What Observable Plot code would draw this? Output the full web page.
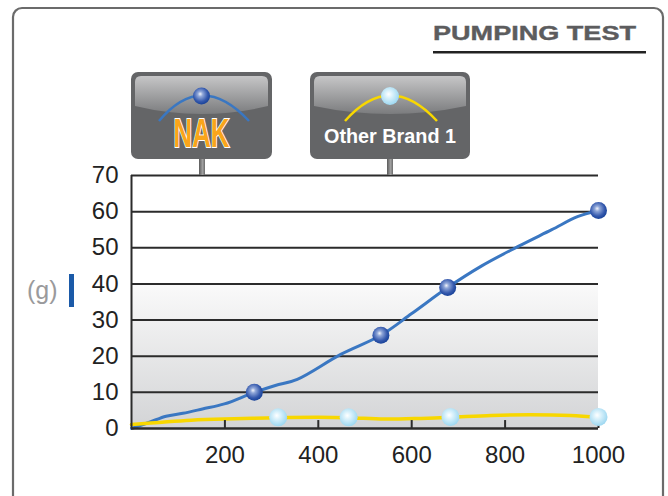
<!DOCTYPE html>
<html><head><meta charset="utf-8">
<script src="https://cdn.jsdelivr.net/npm/d3@7"></script>
<script src="https://cdn.jsdelivr.net/npm/@observablehq/plot@0.6"></script>
<style>
html,body{margin:0;padding:0;background:#fff;}
#chart{position:relative;width:668px;height:496px;overflow:hidden;}
</style></head>
<body><div id="chart"></div>
<script>
// ---- data ----
const title = "PUMPING TEST";
const unitLabel = "(g)";
const seriesNames = ["NAK", "Other Brand 1"];
const yTicks = [0, 10, 20, 30, 40, 50, 60, 70];
const xTicks = [200, 400, 600, 800, 1000];
const nakX = [0, 40, 74, 110, 152, 199, 263, 308, 355, 448, 534, 600, 677, 750, 827, 900, 955, 1000];
const nakY = [0, 1.8, 3.4, 4.2, 5.4, 6.8, 10, 11.9, 13.6, 20.5, 25.8, 31.8, 39, 45, 50.3, 55, 58.6, 60.3];
const nakMarkX = [263, 534, 677, 1000];
const nakMarkY = [10, 25.8, 39, 60.3];
const othX = [0, 128, 220, 315, 400, 463, 542, 620, 683, 770, 854, 940, 1000];
const othY = [1.1, 2.3, 2.7, 3.0, 3.1, 3.0, 2.6, 2.8, 3.1, 3.6, 3.8, 3.6, 3.1];
const othMarkX = [314, 465, 683, 1000];
const othMarkY = [3.1, 3.1, 3.2, 3.2];
const shadeBand = [{y1: 0, y2: 40}];

const nak = nakX.map((x, i) => ({x, y: nakY[i]}));
const oth = othX.map((x, i) => ({x, y: othY[i]}));
const nakM = nakMarkX.map((x, i) => ({x, y: nakMarkY[i]}));
const othM = othMarkX.map((x, i) => ({x, y: othMarkY[i]}));

const plot = Plot.plot({
  width: 668, height: 496,
  marginLeft: 131, marginRight: 70, marginTop: 175, marginBottom: 68,
  style: {fontFamily: "'Liberation Sans', Arial, sans-serif", background: "#fff", overflow: "visible", color: "#222"},
  x: {domain: [0, 1000]},
  y: {domain: [0, 70]},
  marks: [
    Plot.rect(shadeBand, {x1: 0, x2: 1000, y1: "y1", y2: "y2", fill: "url(#bgGrad)"}),
    Plot.ruleY(yTicks.filter(d => d > 0), {x1: 0, x2: 1000, stroke: "#2b2b2b", strokeWidth: 2}),
    Plot.line(nak, {x: "x", y: "y", curve: "catmull-rom", stroke: "#3a77c2", strokeWidth: 3}),
    Plot.line(oth, {x: "x", y: "y", curve: "catmull-rom", stroke: "#f8d700", strokeWidth: 3.5}),
    Plot.ruleY([0], {x1: 0, x2: 1000, stroke: "#2b2b2b", strokeWidth: 2.5}),
    Plot.ruleX([0], {y1: 0, y2: 70, stroke: "#2b2b2b", strokeWidth: 2}),
    Plot.ruleX(xTicks, {y1: 0, y2: 2.2, stroke: "#2b2b2b", strokeWidth: 2}),
    Plot.dot(nakM, {x: "x", y: "y", r: 8.5, fill: "url(#blueBall)", stroke: "none"}),
    Plot.dot(othM, {x: "x", y: "y", r: 9, fill: "url(#cyanBall)", stroke: "none"}),
    Plot.axisY(yTicks, {tickSize: 0, tickPadding: 13, fontSize: 24, fill: "#222", label: null, tickFormat: d => String(d)}),
    Plot.axisX(xTicks, {tickSize: 0, tickPadding: 17, fontSize: 24, fill: "#222", label: null, tickFormat: d => String(d)})
  ]
});
document.getElementById("chart").appendChild(plot);

// ---- decorations ----
const svg = d3.select(plot);
const defs = svg.insert("defs", ":first-child");
const bg = defs.append("linearGradient").attr("id", "bgGrad").attr("x1", 0).attr("y1", 0).attr("x2", 0).attr("y2", 1);
bg.append("stop").attr("offset", "0%").attr("stop-color", "#fafafa");
bg.append("stop").attr("offset", "100%").attr("stop-color", "#d3d4d6");
const bb = defs.append("radialGradient").attr("id", "blueBall").attr("cx", "45%").attr("cy", "42%").attr("r", "60%").attr("fx", "42%").attr("fy", "38%");
bb.append("stop").attr("offset", "0%").attr("stop-color", "#f2f4fb");
bb.append("stop").attr("offset", "25%").attr("stop-color", "#8fa6d8");
bb.append("stop").attr("offset", "70%").attr("stop-color", "#3559ad");
bb.append("stop").attr("offset", "100%").attr("stop-color", "#143f96");
const cb = defs.append("radialGradient").attr("id", "cyanBall").attr("cx", "45%").attr("cy", "42%").attr("r", "60%").attr("fx", "42%").attr("fy", "40%");
cb.append("stop").attr("offset", "0%").attr("stop-color", "#ffffff");
cb.append("stop").attr("offset", "35%").attr("stop-color", "#d9f1fb");
cb.append("stop").attr("offset", "100%").attr("stop-color", "#9ad6f0");
const boxG = defs.append("linearGradient").attr("id", "shine").attr("x1", 0).attr("y1", 0).attr("x2", 0).attr("y2", 1);
boxG.append("stop").attr("offset", "0%").attr("stop-color", "#c6c6c7");
boxG.append("stop").attr("offset", "100%").attr("stop-color", "#7b7c7e");
const stemG = defs.append("linearGradient").attr("id", "stem").attr("x1", 0).attr("y1", 0).attr("x2", 1).attr("y2", 0);
stemG.append("stop").attr("offset", "0%").attr("stop-color", "#5a5a5a");
stemG.append("stop").attr("offset", "60%").attr("stop-color", "#a0a0a0");
stemG.append("stop").attr("offset", "100%").attr("stop-color", "#6a6a6a");

const deco = svg.append("g").attr("text-anchor", "start");
// outer frame
deco.append("rect").attr("x", 13).attr("y", 8).attr("width", 650).attr("height", 520).attr("rx", 9)
  .attr("fill", "none").attr("stroke", "#6b6b6b").attr("stroke-width", 2.2);
// title
deco.append("text").attr("x", 433).attr("y", 40).attr("text-anchor", "start").text(title)
  .attr("font-size", 21).attr("font-weight", "bold").attr("fill", "#5c5c5e")
  .attr("stroke", "#5c5c5e").attr("stroke-width", 0.4)
  .attr("textLength", 203).attr("lengthAdjust", "spacingAndGlyphs");
deco.append("rect").attr("x", 433).attr("y", 51).attr("width", 213).attr("height", 2.5).attr("fill", "#222");
// unit label
deco.append("text").attr("x", 27).attr("y", 299).attr("text-anchor", "start").text(unitLabel).attr("font-size", 25).attr("fill", "#9a9a9c");
deco.append("rect").attr("x", 69).attr("y", 274).attr("width", 5).attr("height", 33).attr("fill", "#1b5aa8");

// legend boxes
const boxes = [
  {x: 131, w: 141, stem: 202, arcL: 159, arcR: 249, color: "#3a77c2", ball: "url(#blueBall)", br: 8.5, name: seriesNames[0]},
  {x: 310, w: 160, stem: 390, arcL: 345, arcR: 437, color: "#f8d700", ball: "url(#cyanBall)", br: 9, name: seriesNames[1]}
];
boxes.forEach((b, i) => {
  const g = deco.append("g");
  g.append("rect").attr("x", b.stem - 3).attr("y", 156).attr("width", 6).attr("height", 19).attr("fill", "url(#stem)");
  g.append("rect").attr("x", b.x).attr("y", 72).attr("width", b.w).attr("height", 87).attr("rx", 7).attr("fill", "#646567");
  const x0 = b.x + 4, x1 = b.x + b.w - 4, cx = (x0 + x1) / 2;
  g.append("path").attr("d", `M${x0},${82} Q${x0},${76} ${x0+6},${76} L${x1-6},${76} Q${x1},${76} ${x1},${82} L${x1},${106} Q${cx},${122} ${x0},${106} Z`)
    .attr("fill", "url(#shine)");
  g.append("path").attr("d", `M${b.arcL},${121} Q${cx},${70} ${b.arcR},${121}`).attr("fill", "none").attr("stroke", b.color).attr("stroke-width", 2.5);
  g.append("circle").attr("cx", cx).attr("cy", 96).attr("r", b.br).attr("fill", b.ball);
  if (i === 0) {
    g.append("text").attr("x", cx).attr("y", 147).attr("text-anchor", "middle").text(b.name)
      .attr("font-size", 40).attr("font-weight", "bold").attr("fill", "#f9a51b")
      .attr("stroke", "#fff").attr("stroke-width", 2).attr("paint-order", "stroke")
      .attr("textLength", 56).attr("lengthAdjust", "spacingAndGlyphs");
  } else {
    g.append("text").attr("x", cx).attr("y", 143).attr("text-anchor", "middle").text(b.name)
      .attr("font-size", 21).attr("font-weight", "bold").attr("fill", "#fff")
      .attr("textLength", 132).attr("lengthAdjust", "spacingAndGlyphs");
  }
});
</script></body></html>
